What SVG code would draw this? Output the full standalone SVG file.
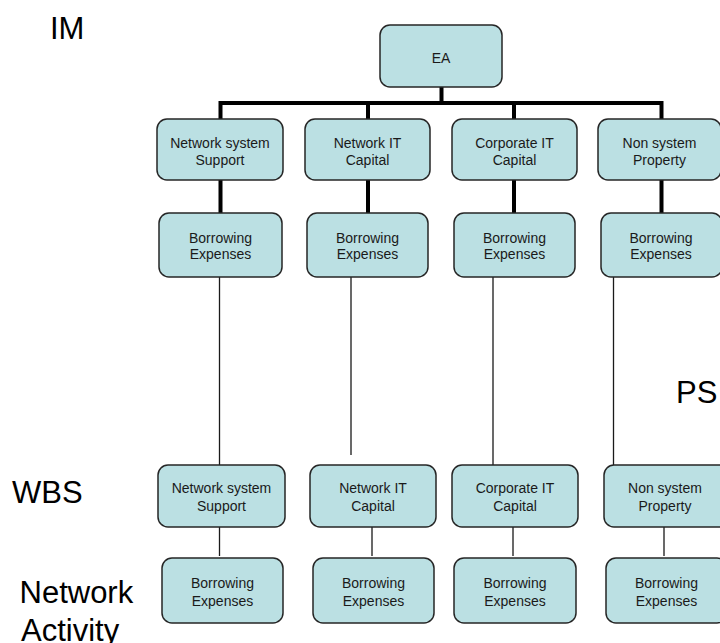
<svg xmlns="http://www.w3.org/2000/svg" width="720" height="643" viewBox="0 0 720 643">
<style>
.box{fill:#BBE0E3;stroke:#262626;stroke-width:1.5}
.t{font-family:"Liberation Sans",Arial,sans-serif;font-size:14px;fill:#1a1a1a;text-anchor:middle}
.big{font-family:"Liberation Sans",Arial,sans-serif;font-size:31px;fill:#000}
.thick{stroke:#000;stroke-width:4;fill:none}
.thin{stroke:#1a1a1a;stroke-width:1.3;fill:none}
</style>
<rect width="720" height="643" fill="#fff"/>
<g id="connectors">
<path class="thick" d="M441.5 87V103M220.5 119V103H661.5V119M368 103V119M514 103V119"/>
<path class="thick" d="M220.5 180V213M368 180V213M514 180V213M661.5 180V213"/>
<path class="thin" d="M219.5 273V465M351 273V455M493 273V465M613.5 273V465"/>
<path class="thin" d="M219.5 525V556M372 525V556M513 525V556M664 525V556"/>
</g>
<g id="ea"><rect class="box" x="380" y="25" width="122" height="62" rx="10"/><text class="t" x="441" y="63">EA</text></g>
<g id="l1-1"><rect class="box" x="157" y="119" width="126" height="61" rx="10"/><text class="t" x="220" y="148">Network system</text><text class="t" x="220" y="164.5">Support</text></g>
<g id="l1-2"><rect class="box" x="305" y="119" width="125" height="61" rx="10"/><text class="t" x="367.5" y="148">Network IT</text><text class="t" x="367.5" y="164.5">Capital</text></g>
<g id="l1-3"><rect class="box" x="452" y="119" width="125" height="61" rx="10"/><text class="t" x="514.5" y="148">Corporate IT</text><text class="t" x="514.5" y="164.5">Capital</text></g>
<g id="l1-4"><rect class="box" x="598" y="119" width="123" height="61" rx="10"/><text class="t" x="659.5" y="148">Non system</text><text class="t" x="659.5" y="164.5">Property</text></g>
<g id="l2-1"><rect class="box" x="159" y="213" width="123" height="64" rx="10"/><text class="t" x="220.5" y="242.5">Borrowing</text><text class="t" x="220.5" y="258.5">Expenses</text></g>
<g id="l2-2"><rect class="box" x="307" y="213" width="121" height="64" rx="10"/><text class="t" x="367.5" y="242.5">Borrowing</text><text class="t" x="367.5" y="258.5">Expenses</text></g>
<g id="l2-3"><rect class="box" x="454" y="213" width="121" height="64" rx="10"/><text class="t" x="514.5" y="242.5">Borrowing</text><text class="t" x="514.5" y="258.5">Expenses</text></g>
<g id="l2-4"><rect class="box" x="601" y="213" width="121" height="64" rx="10"/><text class="t" x="661" y="242.5">Borrowing</text><text class="t" x="661" y="258.5">Expenses</text></g>
<g id="l3-1"><rect class="box" x="158" y="465" width="127" height="62" rx="10"/><text class="t" x="221.5" y="492.5">Network system</text><text class="t" x="221.5" y="510.5">Support</text></g>
<g id="l3-2"><rect class="box" x="310" y="465" width="126" height="62" rx="10"/><text class="t" x="373" y="492.5">Network IT</text><text class="t" x="373" y="510.5">Capital</text></g>
<g id="l3-3"><rect class="box" x="452" y="465" width="126" height="62" rx="10"/><text class="t" x="515" y="492.5">Corporate IT</text><text class="t" x="515" y="510.5">Capital</text></g>
<g id="l3-4"><rect class="box" x="604" y="465" width="126" height="62" rx="10"/><text class="t" x="665" y="492.5">Non system</text><text class="t" x="665" y="510.5">Property</text></g>
<g id="l4-1"><rect class="box" x="162" y="558" width="121" height="65" rx="10"/><text class="t" x="222.5" y="588">Borrowing</text><text class="t" x="222.5" y="606">Expenses</text></g>
<g id="l4-2"><rect class="box" x="313" y="558" width="121" height="65" rx="10"/><text class="t" x="373.5" y="588">Borrowing</text><text class="t" x="373.5" y="606">Expenses</text></g>
<g id="l4-3"><rect class="box" x="454" y="558" width="122" height="65" rx="10"/><text class="t" x="515" y="588">Borrowing</text><text class="t" x="515" y="606">Expenses</text></g>
<g id="l4-4"><rect class="box" x="606" y="558" width="121" height="65" rx="10"/><text class="t" x="666.5" y="588">Borrowing</text><text class="t" x="666.5" y="606">Expenses</text></g>
<g id="labels">
<text class="big" x="50" y="39">IM</text>
<text class="big" x="676" y="403">PS</text>
<text class="big" x="12" y="503">WBS</text>
<text class="big" x="19.5" y="603">Network</text>
<text class="big" x="21" y="641">Activity</text>
</g>
</svg>
